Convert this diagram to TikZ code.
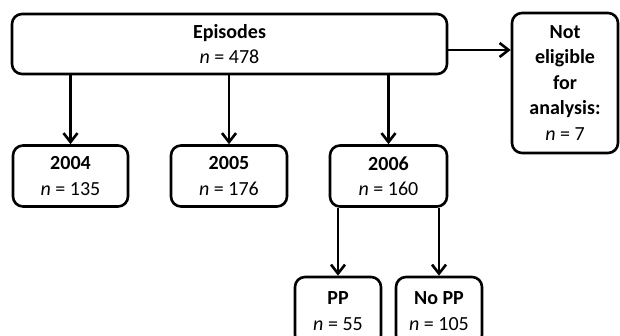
\documentclass[tikz,border=0pt]{standalone}
\usepackage{fontspec}
\setmainfont{Carlito}
\usepackage{tikz}
\usetikzlibrary{arrows.meta,positioning}
\tikzset{
  flowarrow/.style={-{Straight Barb[length=9pt,width=14pt,line width=2.6pt]},line width=2.6pt,draw=black},
  stage/.style={draw=black,line width=2.6pt,rounded corners=10pt,fill=white,align=center,inner sep=0pt,font=\fontsize{20}{25.5}\selectfont},
}
\newcommand{\nval}[1]{\textit{n} = #1}

\begin{document}
\begin{tikzpicture}[x=1pt,y=1pt]
  \useasboundingbox (0,0) rectangle (620,-336);
  \node[stage,minimum width=435pt,minimum height=60pt] (episodes) at (229.5,-44) {\textbf{Episodes}\\\nval{478}};
  \node[stage,minimum width=106pt,minimum height=140pt] (notelig) at (565,-83) {\textbf{Not}\\\textbf{eligible}\\\textbf{for}\\\textbf{analysis:}\\\nval{7}};
  \coordinate (split) at (0,-50);
  \draw[flowarrow] (episodes.east |- split) -- (notelig.west |- split);

  \node[stage,minimum width=115pt,minimum height=61pt] (y2004) at (70.5,-176) {\textbf{2004}\\\nval{135}};
  \node[stage,minimum width=116pt,minimum height=61pt] (y2005) at (229,-176) {\textbf{2005}\\\nval{176}};
  \node[stage,minimum width=117pt,minimum height=61pt] (y2006) at (388.5,-176) {\textbf{2006}\\\nval{160}};
  \draw[flowarrow] (episodes.south -| y2004) -- (y2004.north);
  \draw[flowarrow] (episodes.south -| y2005) -- (y2005.north);
  \draw[flowarrow] (episodes.south -| y2006) -- (y2006.north);

  \node[stage,minimum width=86pt,minimum height=68pt] (pp) at (338,-311) {\textbf{PP}\\\nval{55}};
  \node[stage,minimum width=86pt,minimum height=68pt] (nopp) at (439,-311) {\textbf{No PP}\\\nval{105}};
  \draw[flowarrow] (y2006.south -| pp) -- (pp.north);
  \draw[flowarrow] (y2006.south -| nopp) -- (nopp.north);
\end{tikzpicture}
\end{document}
